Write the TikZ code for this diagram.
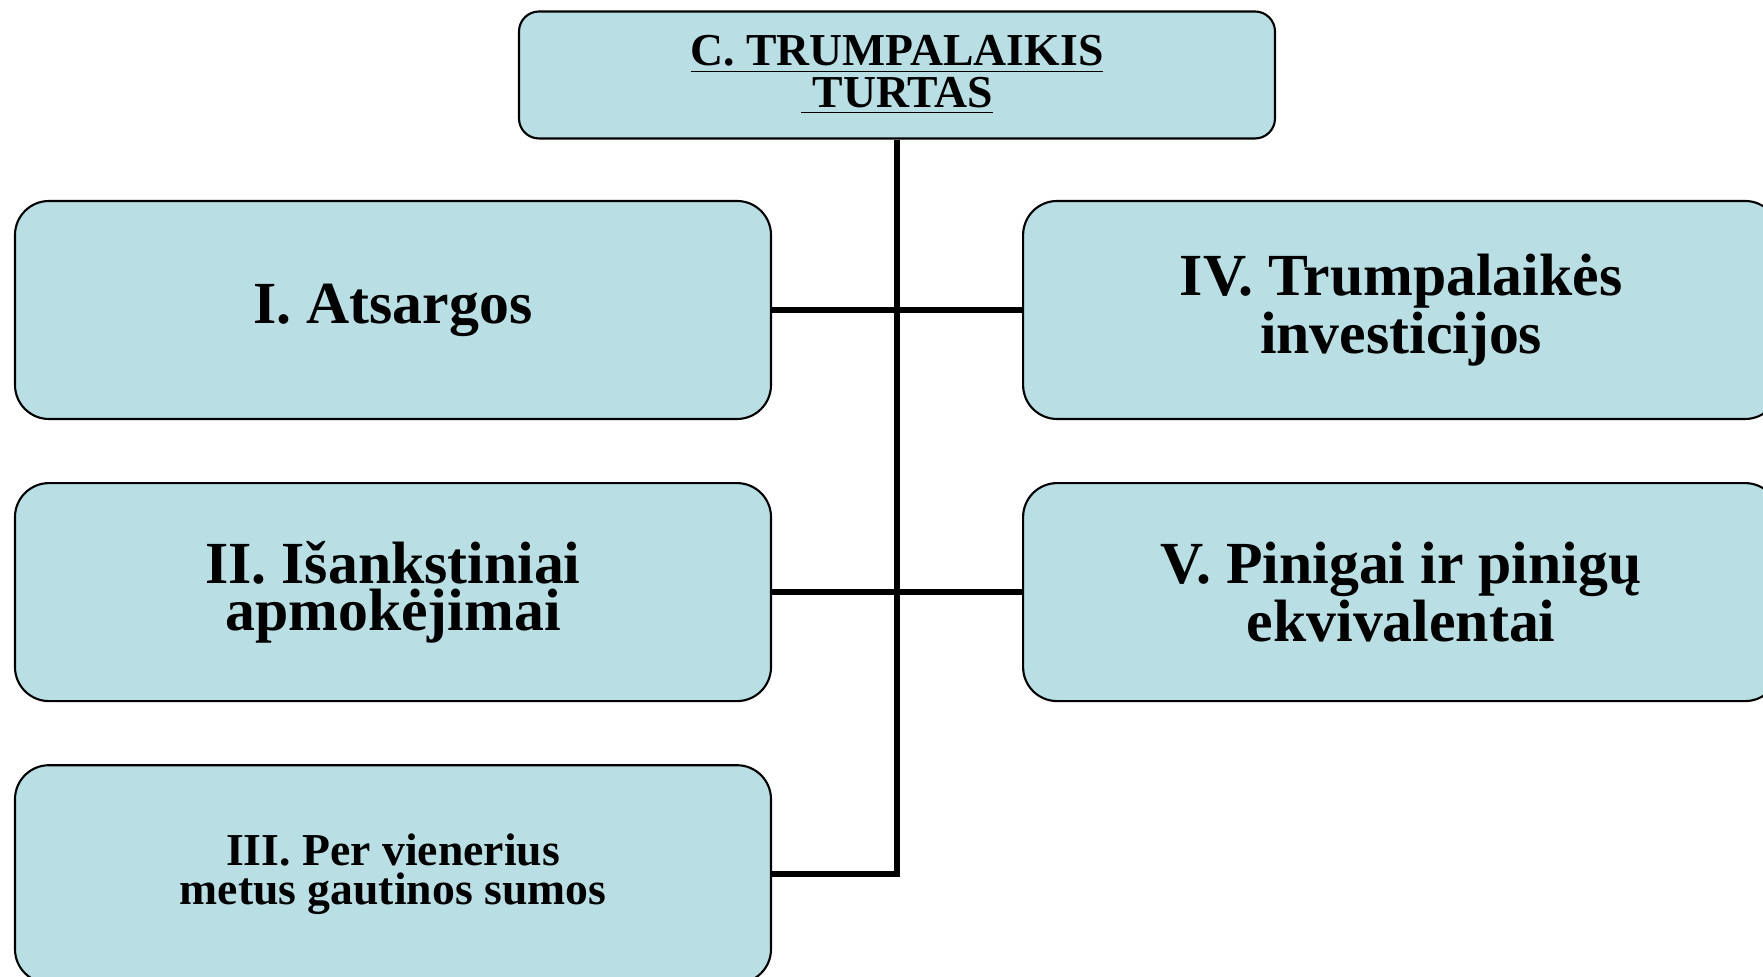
\documentclass[tikz,border=0pt]{standalone}
\usepackage{fontspec}
\setmainfont{Liberation Serif}
\usetikzlibrary{positioning}

\definecolor{boxblue}{RGB}{185,223,228}

\begin{document}
\begin{tikzpicture}[
	        block/.style={draw, fill=boxblue, rectangle, rounded corners=0.34cm, line width=0.6pt, minimum width=7.56cm, minimum height=2.18cm, align=center, font=\bfseries\fontsize{17}{13.4}\selectfont},
	        head/.style={draw, fill=boxblue, rectangle, rounded corners=0.2cm, line width=0.6pt, minimum width=7.56cm, minimum height=1.27cm, align=center, font=\bfseries\fontsize{13}{10.2}\selectfont},
	        link/.style={line width=1.6pt},
	        node distance=0.62cm]
	        
	        \clip (0,0) rectangle (17.63,-9.77);
	        
	        % Blokai
	        \node (top) [head] at (8.97,-0.75) {\underline{C. TRUMPALAIKIS}\\\underline{~TURTAS}};
	        \node (i) [block] at (3.93,-3.10) {I. Atsargos};
	        \node (ii) [block, below=of i] {II. Išankstiniai\\apmokėjimai};
	        \node (iii) [block, below=0.62cm of ii, font=\bfseries\fontsize{13}{10.9}\selectfont] {III. Per vienerius\\metus gautinos sumos};
	        \node (iv) [block, right=2.5cm of i] {IV. Trumpalaikės\\investicijos};
	        \node (v) [block, below=of iv] {V. Pinigai ir pinigų\\ekvivalentai};
	        
	        % Jungtys
	        \draw[link] (top.south) |- (iii.east);
	        \draw[link] (i.east) -- (iv.west);
	        \draw[link] (ii.east) -- (v.west);
	    \end{tikzpicture}
\end{document}
